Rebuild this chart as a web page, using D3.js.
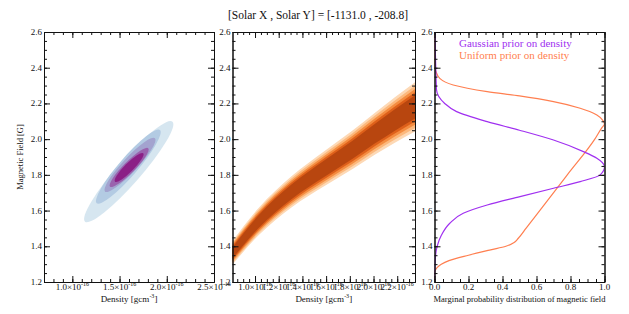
<!DOCTYPE html>
<html>
<head>
<meta charset="utf-8">
<script src="https://cdn.jsdelivr.net/npm/d3@7"></script>
<style>
  body { margin: 0; background: #fff; }
  text { font-family: "Liberation Serif", "Times New Roman", serif; fill: #111; }
</style>
</head>
<body>
<svg id="chart"></svg>
<script>
const width = 629;
const height = 314;

// axis ticks
const bTicks = [1.2, 1.4, 1.6, 1.8, 2.0, 2.2, 2.4, 2.6];
const densTicksLeft = [1.0e-16, 1.5e-16, 2.0e-16, 2.5e-16];
const densTicksMid = [1.0e-16, 1.2e-16, 1.4e-16, 1.6e-16, 1.8e-16, 2.0e-16, 2.2e-16];
const probTicks = [0.0, 0.2, 0.4, 0.6, 0.8, 1.0];

// gaussian prior: filled contour levels (outer -> inner), read as the two tips of each ellipse
const gLoDens = [1.134e-16, 1.258e-16, 1.346e-16, 1.399e-16, 1.452e-16];
const gLoB = [1.538, 1.641, 1.706, 1.734, 1.762];
const gHiDens = [2.060e-16, 1.928e-16, 1.875e-16, 1.804e-16, 1.751e-16];
const gHiB = [2.098, 2.051, 2.005, 1.949, 1.921];
const gRatio = [0.18, 0.19, 0.2, 0.21, 0.22];
const gColors = ["#d6e6f0", "#b3cbe3", "#a3a3cf", "#9a62ae", "#8b1f86"];

// uniform prior: ridge of the band and its half width in B
const uDens = [0.80e-16, 1.03e-16, 1.31e-16, 1.59e-16, 1.82e-16, 2.01e-16, 2.36e-16];
const uB = [1.355, 1.538, 1.706, 1.837, 1.939, 2.03, 2.185];
const uHalf = [0.066, 0.076, 0.087, 0.098, 0.108, 0.117, 0.138];
const uLevels = [1, 0.86, 0.73, 0.6, 0.47];
const uColors = ["#fdd9b6", "#fcb87c", "#f48c40", "#de601a", "#b8460f"];

// marginal distributions of B
const gaussProb = [0.004, 0.006, 0.008, 0.012, 0.06, 0.13, 0.31, 0.50, 0.70, 0.876, 0.955, 1.0,
  0.975, 0.857, 0.70, 0.503, 0.31, 0.169, 0.09, 0.041, 0.015, 0.004, 0.0];
const gaussB = [2.6, 2.45, 2.38, 2.275, 2.20, 2.154, 2.098, 2.05, 1.995, 1.93, 1.893, 1.846,
  1.80, 1.762, 1.725, 1.678, 1.631, 1.585, 1.529, 1.463, 1.398, 1.323, 1.2];
const unifProb = [0.0, 0.0, 0.008, 0.031, 0.11, 0.31, 0.50, 0.70, 0.857, 0.955, 0.99, 1.0, 0.985,
  0.943, 0.781, 0.619, 0.538, 0.493, 0.466, 0.42, 0.33, 0.2, 0.085, 0.04, 0.015, 0.0, 0.0];
const unifB = [2.6, 2.405, 2.38, 2.34, 2.303, 2.266, 2.242, 2.21, 2.173, 2.135, 2.105, 2.085, 2.065,
  2.0, 1.8, 1.6, 1.5, 1.445, 1.42, 1.40, 1.38, 1.35, 1.32, 1.30, 1.28, 1.25, 1.2];

const gaussColor = "#a030f0";
const unifColor = "#ff7f50";

const svg = d3.select("#chart").attr("width", width).attr("height", height);

const plotTop = 32, plotBottom = 282;
const y = d3.scaleLinear().domain([1.2, 2.6]).range([plotBottom, plotTop]);
const xLeft = d3.scaleLinear().domain([0.7e-16, 2.5e-16]).range([44, 214]);
const xMid = d3.scaleLinear().domain([0.81e-16, 2.35e-16]).range([232.5, 415]);
const xRight = d3.scaleLinear().domain([0, 1]).range([434.5, 604.5]);

const stepRange = (a, b, s) => d3.range(Math.round((b - a) / s) + 1).map(i => a + i * s);
const bMinor = stepRange(1.2, 2.6, 0.05);

// title
svg.append("text")
  .attr("x", 318).attr("y", 19)
  .attr("text-anchor", "middle")
  .style("font-size", "11.5px")
  .text("[Solar X , Solar Y] = [-1131.0 , -208.8]");

function clipFor(id, x) {
  svg.append("clipPath").attr("id", id)
    .append("rect")
    .attr("x", x.range()[0]).attr("y", plotTop)
    .attr("width", x.range()[1] - x.range()[0]).attr("height", plotBottom - plotTop);
  return `url(#${id})`;
}

// panel 1: gaussian prior contours
const g1 = svg.append("g").attr("clip-path", clipFor("c1", xLeft));
gColors.forEach((c, i) => {
  const x1 = xLeft(gLoDens[i]), y1 = y(gLoB[i]);
  const x2 = xLeft(gHiDens[i]), y2 = y(gHiB[i]);
  const a = Math.hypot(x2 - x1, y2 - y1) / 2;
  const ang = Math.atan2(y2 - y1, x2 - x1) * 180 / Math.PI;
  g1.append("ellipse")
    .attr("cx", 0).attr("cy", 0)
    .attr("rx", a).attr("ry", a * gRatio[i])
    .attr("transform", `translate(${(x1 + x2) / 2},${(y1 + y2) / 2}) rotate(${ang})`)
    .attr("fill", c);
});

// panel 2: uniform prior band
const bandData = uDens.map((d, i) => ({ d: d, b: uB[i], h: uHalf[i] }));
const g2 = svg.append("g").attr("clip-path", clipFor("c2", xMid));
uLevels.forEach((lv, i) => {
  const area = d3.area()
    .x(p => xMid(p.d))
    .y0(p => y(p.b - p.h * lv))
    .y1(p => y(p.b + p.h * lv))
    .curve(d3.curveMonotoneX);
  g2.append("path").attr("d", area(bandData)).attr("fill", uColors[i]);
});

// panel 3: marginals
const g3 = svg.append("g").attr("clip-path", clipFor("c3", xRight));
const margLine = d3.line()
  .x(p => xRight(p[0]))
  .y(p => y(p[1]))
  .curve(d3.curveMonotoneY);
g3.append("path")
  .attr("d", margLine(unifProb.map((p, i) => [p, unifB[i]])))
  .attr("fill", "none").attr("stroke", unifColor).attr("stroke-width", 1.2);
g3.append("path")
  .attr("d", margLine(gaussProb.map((p, i) => [p, gaussB[i]])))
  .attr("fill", "none").attr("stroke", gaussColor).attr("stroke-width", 1.2);

svg.append("text").attr("x", 459).attr("y", 47)
  .style("font-size", "11px").style("fill", gaussColor)
  .text("Gaussian prior on density");
svg.append("text").attr("x", 459).attr("y", 59)
  .style("font-size", "11px").style("fill", unifColor)
  .text("Uniform prior on density");

// frames with inward ticks on all sides
function frame(x, majorX, minorX) {
  const g = svg.append("g");
  const x0 = x.range()[0], x1 = x.range()[1];
  const addAxis = (axis, tr) => {
    const a = g.append("g").attr("transform", tr).call(axis);
    a.selectAll("path, line").attr("stroke", "#111");
    a.selectAll("text").remove();
  };
  addAxis(d3.axisBottom(x).tickValues(majorX).tickSize(-6).tickSizeOuter(0), `translate(0,${plotBottom})`);
  addAxis(d3.axisBottom(x).tickValues(minorX).tickSize(-3).tickSizeOuter(0), `translate(0,${plotBottom})`);
  addAxis(d3.axisTop(x).tickValues(majorX).tickSize(-6).tickSizeOuter(0), `translate(0,${plotTop})`);
  addAxis(d3.axisTop(x).tickValues(minorX).tickSize(-3).tickSizeOuter(0), `translate(0,${plotTop})`);
  addAxis(d3.axisLeft(y).tickValues(bTicks).tickSize(-6).tickSizeOuter(0), `translate(${x0},0)`);
  addAxis(d3.axisLeft(y).tickValues(bMinor).tickSize(-3).tickSizeOuter(0), `translate(${x0},0)`);
  addAxis(d3.axisRight(y).tickValues(bTicks).tickSize(-6).tickSizeOuter(0), `translate(${x1},0)`);
  addAxis(d3.axisRight(y).tickValues(bMinor).tickSize(-3).tickSizeOuter(0), `translate(${x1},0)`);
  // y tick labels
  bTicks.forEach(t => {
    g.append("text")
      .attr("x", x0 - 2).attr("y", y(t)).attr("dy", "0.33em")
      .attr("text-anchor", "end")
      .style("font-size", "9px")
      .text(t.toFixed(1));
  });
}

frame(xLeft, densTicksLeft, stepRange(0.7e-16, 2.5e-16, 0.1e-16));
frame(xMid, densTicksMid, stepRange(0.85e-16, 2.35e-16, 0.05e-16));
frame(xRight, probTicks, stepRange(0, 1, 0.05));

// x tick labels
function densLabels(x, ticks) {
  ticks.forEach(t => {
    const txt = svg.append("text")
      .attr("x", x(t)).attr("y", 290)
      .attr("text-anchor", "middle")
      .style("font-size", "9px");
    txt.append("tspan").text((t / 1e-16).toFixed(1) + "\u00d710");
    txt.append("tspan").attr("dy", -4).style("font-size", "6px").text("-16");
  });
}
densLabels(xLeft, densTicksLeft);
densLabels(xMid, densTicksMid);
probTicks.forEach(t => {
  svg.append("text")
    .attr("x", xRight(t)).attr("y", 290)
    .attr("text-anchor", "middle")
    .style("font-size", "9px")
    .text(t.toFixed(1));
});

// axis titles
function densTitle(x) {
  const txt = svg.append("text")
    .attr("x", (x.range()[0] + x.range()[1]) / 2).attr("y", 302)
    .attr("text-anchor", "middle")
    .style("font-size", "9px");
  txt.append("tspan").text("Density [gcm");
  txt.append("tspan").attr("dy", -4).style("font-size", "6px").text("-3");
  txt.append("tspan").attr("dy", 4).text("]");
}
densTitle(xLeft);
densTitle(xMid);
svg.append("text")
  .attr("x", (xRight.range()[0] + xRight.range()[1]) / 2).attr("y", 302)
  .attr("text-anchor", "middle")
  .style("font-size", "8.5px")
  .text("Marginal probability distribution of magnetic field");

svg.append("text")
  .attr("transform", `translate(23,${(plotTop + plotBottom) / 2}) rotate(-90)`)
  .attr("text-anchor", "middle")
  .style("font-size", "8.5px")
  .text("Magnetic Field [G]");
</script>
</body>
</html>
